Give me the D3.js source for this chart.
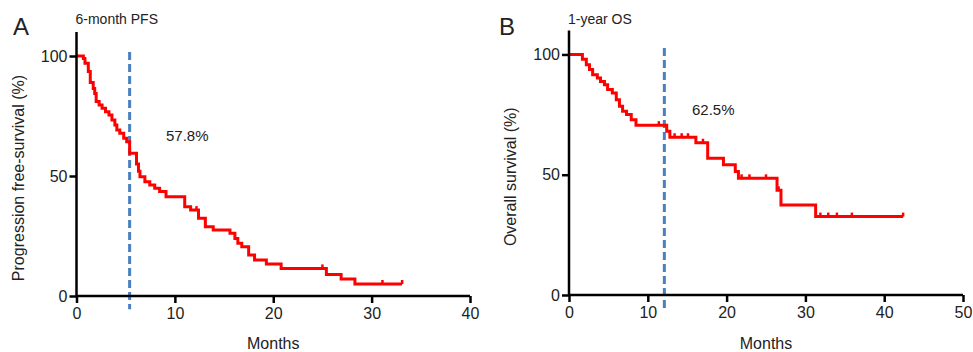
<!DOCTYPE html>
<html><head><meta charset="utf-8">
<script src="https://cdn.jsdelivr.net/npm/d3@7"></script>
<style>
body{margin:0;background:#fff;}
text{font-family:"Liberation Sans",Arial,Helvetica,sans-serif;fill:#222;}
</style></head>
<body><svg id="c" width="973" height="352"></svg>
<script>
// Panel A: PFS
const timesA = [0, 0.7, 0.86, 1.2, 1.4, 1.7, 1.85, 2.0, 2.3, 2.6, 2.95, 3.3, 3.6, 3.9, 4.1, 4.4, 4.8, 5.1, 5.4, 6.1, 6.3, 6.45, 6.95, 7.45, 7.95, 8.45, 9.1, 11.0, 11.6, 12.4, 13.1, 13.9, 15.6, 16.1, 16.4, 16.8, 17.5, 18.1, 19.3, 20.8, 25.4, 26.9, 28.3];
const survA  = [100, 99, 97, 93.5, 89, 86.5, 84.4, 81, 79.6, 78.2, 76.8, 75.4, 73.3, 71.3, 69.2, 67.8, 65.7, 64.3, 59.5, 55, 52, 49.7, 47.6, 46.2, 44.9, 43.5, 41.4, 37.2, 35.8, 32.4, 28.9, 27.5, 26.1, 24, 22, 20.5, 17.1, 15, 13.3, 11.5, 9, 7.1, 5];
const endA = 33.1;
const censorA = [12.2, 25.0, 31.1, 33.1];
const refA = 5.4;
// Panel B: OS
const timesB = [0, 1.7, 2.2, 2.6, 3.0, 3.6, 4.0, 4.5, 4.9, 5.5, 6.0, 6.4, 6.8, 7.3, 7.9, 8.5, 12.4, 12.8, 16.1, 17.6, 19.6, 21.1, 21.5, 26.4, 26.9, 31.3];
const survB  = [100, 98, 95.7, 93.7, 91.6, 90.2, 88.8, 87.4, 85.4, 84, 81.2, 78.5, 76.4, 75, 72.9, 70.6, 68.1, 65.6, 63.3, 56.8, 54.1, 51.3, 48.5, 43.5, 37.4, 32.6];
const endB = 42.4;
const censorB = [11.4, 13.4, 14.3, 15.1, 17.0, 21.9, 22.9, 25.0, 26.6, 31.9, 32.9, 34.0, 35.9, 42.4];
const refB = 12.1;
const yTicks = [0, 50, 100];
const xTicksA = [0, 10, 20, 30, 40];
const xTicksB = [0, 10, 20, 30, 40, 50];

const svg = d3.select("#c");

function panel(o){
  const x = d3.scaleLinear().domain(o.xdom).range(o.xr);
  const y = d3.scaleLinear().domain([0,110]).range(o.yr);
  const g = svg.append("g");
  // curve
  const pts = o.times.map((t,i)=>[t,o.surv[i]]);
  pts.push([o.end, o.surv[o.surv.length-1]]);
  const line = d3.line().x(d=>x(d[0])).y(d=>y(d[1])).curve(d3.curveStepAfter);
  // dashed reference
  g.append("line").attr("x1",x(o.ref)).attr("x2",x(o.ref))
    .attr("y1",y(o.refTop)).attr("y2",y(-5.5))
    .attr("stroke","#4a7fc0").attr("stroke-width",3).attr("stroke-dasharray","8,4");
  g.append("path").attr("d",line(pts)).attr("fill","none")
    .attr("stroke","#ff0000").attr("stroke-width",3).attr("stroke-linejoin","miter");
  const step = t => { let v=o.surv[0]; o.times.forEach((tt,i)=>{ if(tt<=t) v=o.surv[i]; }); return v; };
  g.selectAll(".cens").data(o.censor).enter().append("line")
    .attr("x1",d=>x(d)).attr("x2",d=>x(d))
    .attr("y1",d=>y(step(d))-4).attr("y2",d=>y(step(d)))
    .attr("stroke","#ff0000").attr("stroke-width",2.5);
  // axes
  const ax = g.append("g").attr("transform",`translate(0,${y(0)})`)
    .call(d3.axisBottom(x).tickValues(o.xt).tickSize(7).tickPadding(5));
  const ay = g.append("g").attr("transform",`translate(${x(0)},0)`)
    .call(d3.axisLeft(y).tickValues(yTicks).tickSize(7).tickPadding(2));
  [ax,ay].forEach(a=>{
    a.select(".domain").attr("stroke","#000").attr("stroke-width",2.5);
    a.selectAll(".tick line").attr("stroke","#000").attr("stroke-width",2.5);
    a.selectAll(".tick text").style("font-size","16px").style("fill","#222")
      .style("font-family","'Liberation Sans',Arial,sans-serif");
  });
  ay.select(".domain").attr("d",`M0,${y(110)}V${y(0)}`);
  ax.select(".domain").attr("d",`M${x(o.xdom[0])},0H${x(o.xdom[1])}`);
  // texts
  g.append("text").attr("x",o.letterX).attr("y",35).style("font-size","24px").text(o.letter);
  g.append("text").attr("x",x(0)-1).attr("y",24).style("font-size","14px").text(o.title);
  g.append("text").attr("x",o.pctX).attr("y",o.pctY).style("font-size","15px").text(o.pct);
  g.append("text").attr("x",(o.xr[0]+o.xr[1])/2).attr("y",349).attr("text-anchor","middle")
    .style("font-size","16px").text("Months");
  g.append("text").attr("transform",`translate(${o.ylabX},${(y(0)+y(100))/2+2}) rotate(-90)`)
    .attr("text-anchor","middle").style("font-size","16px").text(o.ylab);
}

panel({xdom:[0,40], xr:[76.5,470], yr:[296,32], times:timesA, surv:survA, end:endA,
  censor:censorA, ref:refA, refTop:101.7, xt:xTicksA, letter:"A", letterX:13,
  title:"6-month PFS", pct:"57.8%", pctX:166, pctY:141,
  ylab:"Progression free-survival (%)", ylabX:24});
panel({xdom:[0,50], xr:[569,963], yr:[295,30.4], times:timesB, surv:survB, end:endB,
  censor:censorB, ref:refB, refTop:102.7, xt:xTicksB, letter:"B", letterX:499,
  title:"1-year OS", pct:"62.5%", pctX:692, pctY:115,
  ylab:"Overall survival (%)", ylabX:516});
</script></body></html>
